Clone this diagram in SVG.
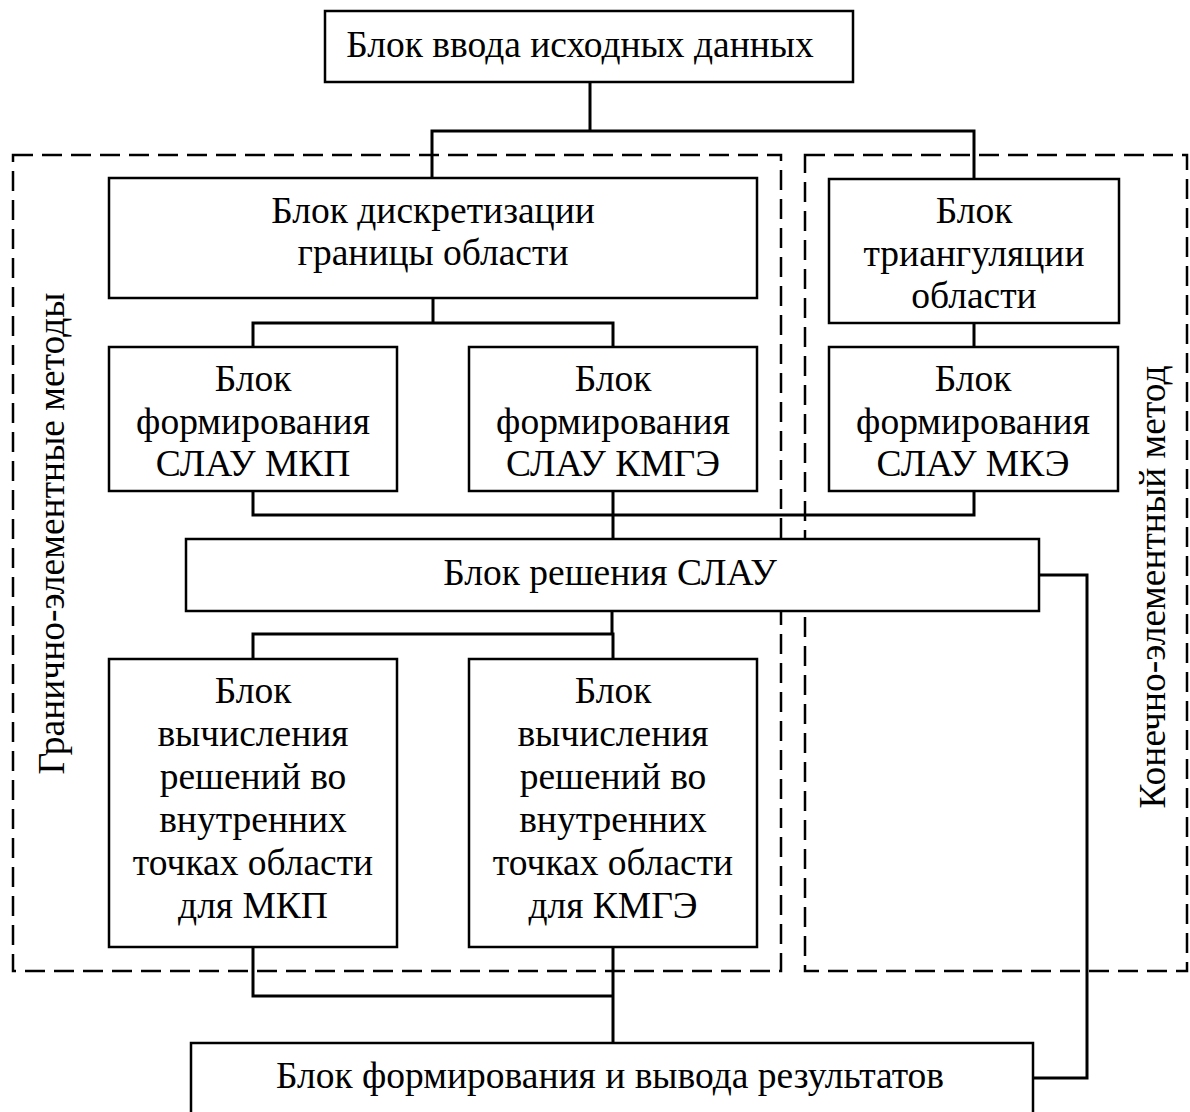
<svg xmlns="http://www.w3.org/2000/svg" width="1190" height="1112" viewBox="0 0 1190 1112">
<style>
.box{fill:#fff;stroke:#000;stroke-width:2.5}
.t{font-family:"Liberation Serif","Times New Roman",serif;font-size:37.5px;fill:#000;text-anchor:middle}
.con{fill:none;stroke:#000;stroke-width:3;stroke-linecap:square}
.dash{fill:none;stroke:#000;stroke-width:2.5;stroke-dasharray:20 9}
</style>
<rect width="1190" height="1112" fill="#fff"/>
<g id="groups">
<rect class="dash" x="13" y="155" width="768" height="816"/>
<rect class="dash" x="805" y="155" width="382" height="816"/>
<text class="t" transform="translate(63.5,533.5) rotate(-90)">Гранично-элементные методы</text>
<text class="t" transform="translate(1165,587) rotate(-90)">Конечно-элементный метод</text>
</g>
<g id="connectors">
<path class="con" d="M590 82V131M432 131H974M432 131V178M974 131V179"/>
<path class="con" d="M433 298V323M253 323H613M253 323V347M613 323V347M974 323V347"/>
<path class="con" d="M253 491V515H974V491M613 491V539"/>
<path class="con" d="M1039 575H1087V1078H1033"/>
<path class="con" d="M612 611V634M253 634H613M253 634V659M613 634V659"/>
<path class="con" d="M253 947V996H613M613 947V1043"/>
</g>
<g id="n_input"><rect class="box" x="325" y="11" width="528" height="71"/><text class="t" x="580" y="57">Блок ввода исходных данных</text></g>
<g id="n_discr"><rect class="box" x="109" y="178" width="648" height="120"/><text class="t" x="433" y="223">Блок дискретизации</text><text class="t" x="433" y="265">границы области</text></g>
<g id="n_triang"><rect class="box" x="829" y="179" width="290" height="144"/><text class="t" x="974" y="223">Блок</text><text class="t" x="974" y="266">триангуляции</text><text class="t" x="974" y="308">области</text></g>
<g id="n_mkp_form"><rect class="box" x="109" y="347" width="288" height="144"/><text class="t" x="253" y="391">Блок</text><text class="t" x="253" y="434">формирования</text><text class="t" x="253" y="476">СЛАУ МКП</text></g>
<g id="n_kmge_form"><rect class="box" x="469" y="347" width="288" height="144"/><text class="t" x="613" y="391">Блок</text><text class="t" x="613" y="434">формирования</text><text class="t" x="613" y="476">СЛАУ КМГЭ</text></g>
<g id="n_mke_form"><rect class="box" x="829" y="347" width="289" height="144"/><text class="t" x="973" y="391">Блок</text><text class="t" x="973" y="434">формирования</text><text class="t" x="973" y="476">СЛАУ МКЭ</text></g>
<g id="n_slau"><rect class="box" x="186" y="539" width="853" height="72"/><text class="t" x="610" y="585">Блок решения СЛАУ</text></g>
<g id="n_mkp_calc"><rect class="box" x="109" y="659" width="288" height="288"/><text class="t" x="253" y="703">Блок</text><text class="t" x="253" y="746">вычисления</text><text class="t" x="253" y="789">решений во</text><text class="t" x="253" y="832">внутренних</text><text class="t" x="253" y="875">точках области</text><text class="t" x="253" y="918">для МКП</text></g>
<g id="n_kmge_calc"><rect class="box" x="469" y="659" width="288" height="288"/><text class="t" x="613" y="703">Блок</text><text class="t" x="613" y="746">вычисления</text><text class="t" x="613" y="789">решений во</text><text class="t" x="613" y="832">внутренних</text><text class="t" x="613" y="875">точках области</text><text class="t" x="613" y="918">для КМГЭ</text></g>
<g id="n_output"><rect class="box" x="191" y="1043" width="842" height="90"/><text class="t" x="610" y="1088">Блок формирования и вывода результатов</text></g>
</svg>
